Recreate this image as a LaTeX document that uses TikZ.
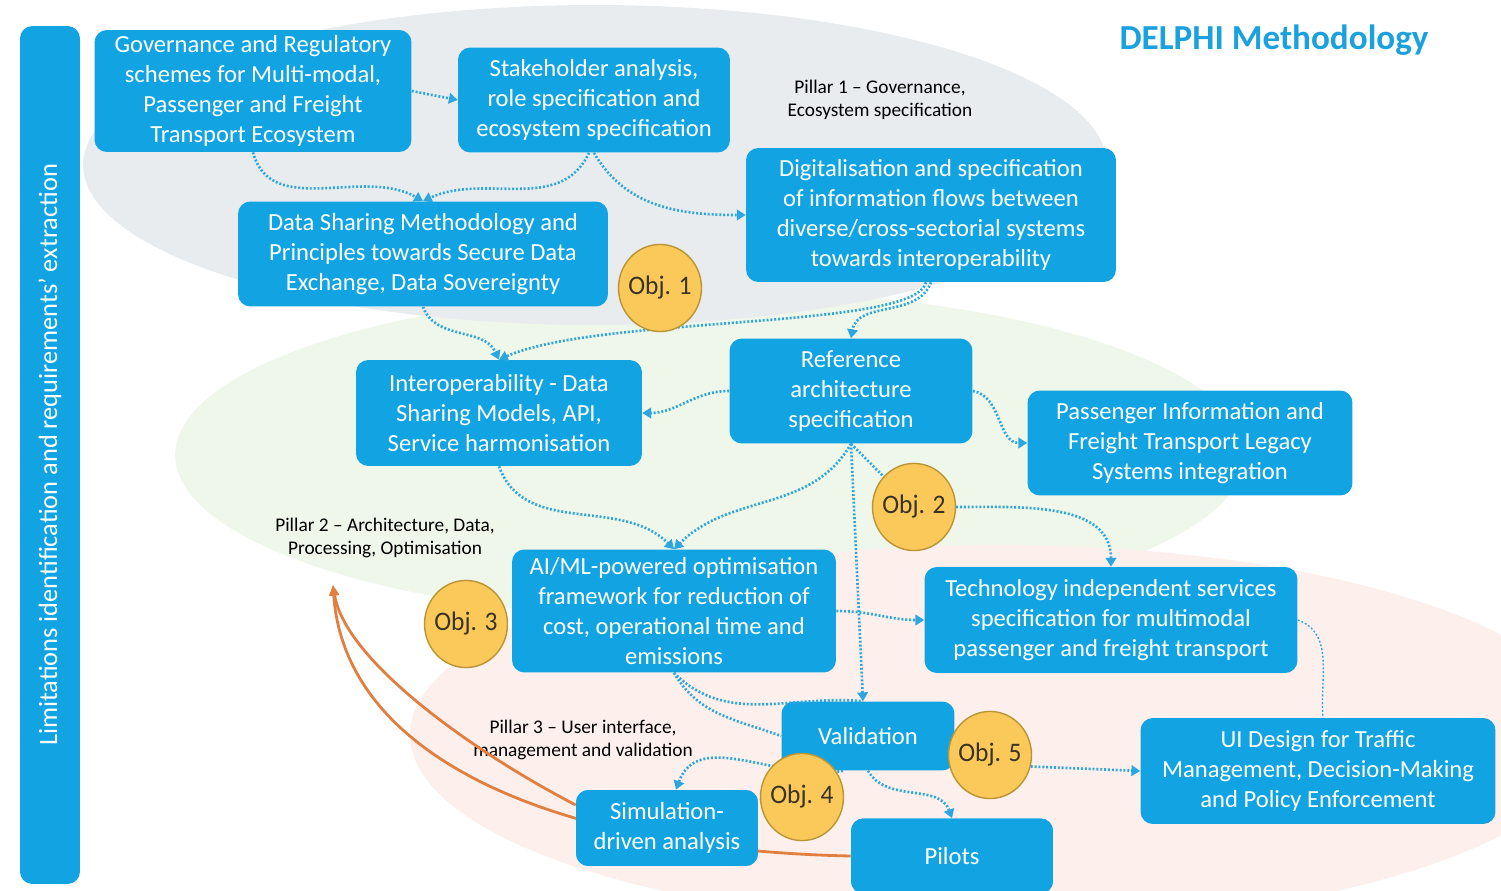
\documentclass[tikz,border=0pt]{standalone}
\usepackage{fontspec}
\setmainfont{Carlito}
\usetikzlibrary{arrows.meta}
\definecolor{boxblue}{HTML}{12A3E2}
\definecolor{flowblue}{HTML}{2CA6DF}
\definecolor{objfill}{HTML}{FAC95A}
\definecolor{objedge}{HTML}{B99535}
\definecolor{objtext}{HTML}{3A3222}
\definecolor{orangeline}{HTML}{E07F3F}
\definecolor{bggray}{HTML}{E8ECEF}
\definecolor{bggreen}{HTML}{EFF6EA}
\definecolor{bgpink}{HTML}{FDF0EC}
\definecolor{titleblue}{HTML}{1BA1DE}

\begin{document}
\begin{tikzpicture}[x=0.02cm,y=0.02cm,
  box/.style={fill=boxblue, rounded corners=7pt, text=white, align=center, inner sep=2pt,
    font=\fontsize{14}{17}\selectfont},
  obj/.style={ellipse-ish, fill=objfill, draw=objedge, line width=0.8pt,
    text=objtext, font=\fontsize{14.5}{17}\selectfont},
  ellipse-ish/.style={circle, minimum size=1.66cm, inner sep=0pt, yscale=1.05},
  pillar/.style={align=center, text=black, font=\fontsize{11}{13}\selectfont},
  link/.style={draw=flowblue, line width=1.5pt, dash pattern=on 1.1pt off 1.1pt},
  flow/.style={link, -{Triangle[length=5pt,width=6pt]}},
  back/.style={draw=orangeline, line width=1.6pt, -{Triangle[length=6pt,width=5pt]}}]
\useasboundingbox (0,0) rectangle (1501,-891);

% background pillars
\fill[bggreen] (710,-455) ellipse [x radius=10.7cm, y radius=3.3cm];
\fill[bggray] (595,-165) ellipse [x radius=10.24cm, y radius=3.2cm];
\fill[bgpink] (1000,-735) ellipse [x radius=11.8cm, y radius=3.8cm];

\node[titleblue, font=\fontsize{20}{24}\selectfont\bfseries] (title) at (1274,-40) {DELPHI Methodology};

\node[pillar] (p1) at (880,-100) {Pillar 1 -- Governance,\\Ecosystem specification};
\node[pillar] (p2) at (385,-538) {Pillar 2 -- Architecture, Data,\\Processing, Optimisation};
\node[pillar] (p3) at (583,-740) {Pillar 3 -- User interface,\\management and validation};
\coordinate (p2in) at (333,-585);

\node[box, rotate=90, minimum width=17.16cm, minimum height=1.2cm, font=\fontsize{15}{17}\selectfont]
  (limits) at (50,-455) {Limitations identification and requirements' extraction};

% orange feedback
\node[box, minimum width=3.64cm, minimum height=1.52cm] (sim) at (667,-828) {Simulation-\\driven analysis};
\node[box, minimum width=4.04cm, minimum height=1.5cm] (pilots) at (952,-856) {Pilots};
\draw[back] ([yshift=0.46cm]sim.west) .. controls (470,-750) and (345,-660) .. (p2in);
\draw[back] (pilots.west) .. controls (560,-850) and (345,-760) .. (p2in);
\node[box, minimum width=3.64cm, minimum height=1.52cm] at (sim) {Simulation-\\driven analysis};
\node[box, minimum width=4.04cm, minimum height=1.5cm] at (pilots) {Pilots};

\node[box, minimum width=6.34cm, minimum height=2.44cm] (gov) at (253,-91)
  {Governance and Regulatory\\schemes for Multi-modal,\\Passenger and Freight\\Transport Ecosystem};
\node[box, minimum width=5.44cm, minimum height=2.1cm] (stake) at (594,-100)
  {Stakeholder analysis,\\role specification and\\ecosystem specification};
\node[box, minimum width=7.4cm, minimum height=2.1cm] (dsm) at (423,-254)
  {Data Sharing Methodology and\\Principles towards Secure Data\\Exchange, Data Sovereignty};
\node[box, minimum width=7.4cm, minimum height=2.68cm] (digi) at (931,-215)
  {Digitalisation and specification\\of information flows between\\diverse/cross-sectorial systems\\towards interoperability};
\node[box, minimum width=5.72cm, minimum height=2.12cm] (interop) at (499,-413)
  {Interoperability - Data\\Sharing Models, API,\\Service harmonisation};
\node[box, minimum width=4.86cm, minimum height=2.1cm] (refarch) at (851,-391)
  {Reference\\architecture\\specification};
\node[box, minimum width=6.5cm, minimum height=2.1cm] (legacy) at (1190,-443)
  {Passenger Information and\\Freight Transport Legacy\\Systems integration};
\node[box, minimum width=6.48cm, minimum height=2.46cm] (aiml) at (674,-611)
  {AI/ML-powered optimisation\\framework for reduction of\\cost, operational time and\\emissions};
\node[box, minimum width=7.46cm, minimum height=2.12cm] (techind) at (1111,-620)
  {Technology independent services\\specification for multimodal\\passenger and freight transport};
\node[box, minimum width=3.46cm, minimum height=1.38cm] (valid) at (868,-736) {Validation};
\node[box, minimum width=7.1cm, minimum height=2.12cm] (ui) at (1318,-771)
  {UI Design for Traffic\\Management, Decision-Making\\and Policy Enforcement};

% flows
\draw[flow] (gov.east) -- (stake.west);
\draw[flow] (gov.south) to[out=-75,in=150] (dsm.north);
\draw[flow] ([xshift=-0.1cm]stake.south) to[out=-115,in=25] (dsm.north);
\draw[flow] (stake.south) to[out=-60,in=180] (digi.west);
\draw[flow] (dsm.south) to[out=-70,in=115] (interop.north);
\draw[flow] ([xshift=-0.1cm]digi.south) .. controls (915,-330) and (600,-315) .. (interop.north);
\draw[flow] (digi.south) to[out=-110,in=80] (refarch.north);
\draw[flow] (refarch.west) to[out=180,in=0] (interop.east);
\draw[flow] (refarch.east) to[out=-10,in=180] (legacy.west);
\draw[flow] (interop.south) to[out=-70,in=135] (aiml.north);
\draw[flow] (refarch.south) to[out=-120,in=45] (aiml.north);
\draw[flow] (refarch.south) -- ([xshift=-0.1cm]valid.north);
\draw[link] (refarch.south) -- (914,-507);
\draw[flow] (aiml.east) to[out=0,in=180] (techind.west);
\draw[link] (aiml.south) to[out=-45,in=175] ([xshift=-0.1cm]valid.north);
\draw[link] (aiml.south) to[out=-60,in=160] (valid.west);
\draw[flow] ([xshift=-0.5cm]valid.south) to[out=-170,in=70] ([xshift=0.18cm]sim.north);
\draw[flow] (valid.south) to[out=-60,in=110] (pilots.north);
\draw[link, line width=0.8pt] (techind.east) to[out=-20,in=95] ([xshift=0.1cm]ui.north);

% objectives
\node[obj] (obj1) at (660,-288) {Obj. 1};
\node[obj] (obj2) at (914,-507) {Obj. 2};
\node[obj] (obj3) at (466,-624) {Obj. 3};
\node[obj] (obj4) at (802,-797) {Obj. 4};
\node[obj] (obj5) at (990,-755) {Obj. 5};
\draw[flow] (obj2.east) to[out=0,in=90] (techind.north);
\draw[flow] (obj5.-15) -- (ui.west);

\end{tikzpicture}
\end{document}
